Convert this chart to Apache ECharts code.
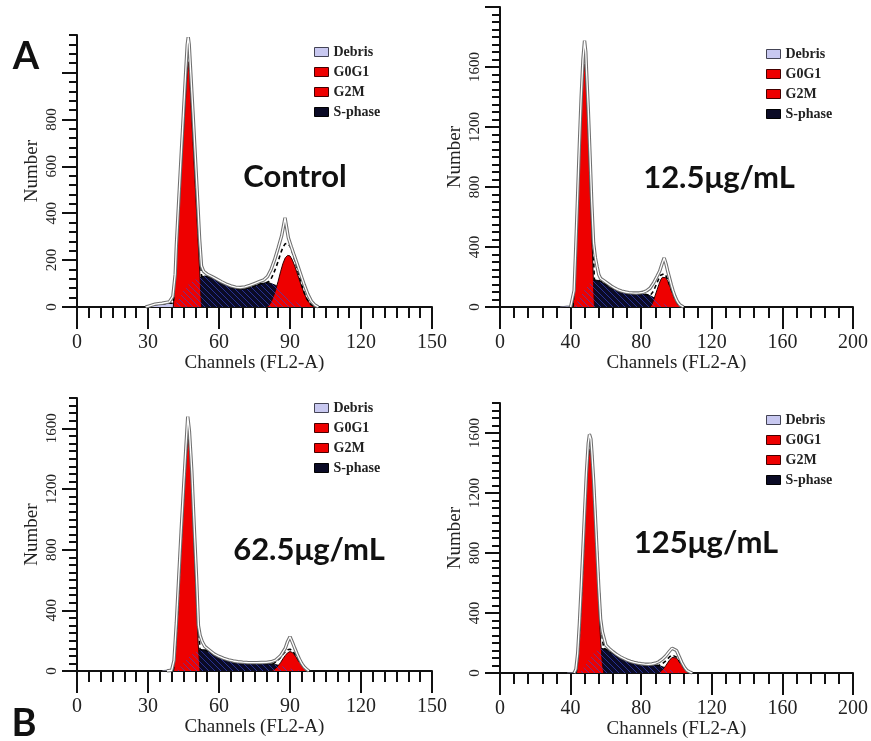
<!DOCTYPE html>
<html><head><meta charset="utf-8">
<script src="https://cdn.jsdelivr.net/npm/echarts@6/dist/echarts.min.js"></script>
<style>html,body{margin:0;padding:0;background:#fff}#c{width:871px;height:741px}</style>
</head><body><div id="c"></div>
<script>
// ---------- DATA (channel, count) ----------
const ctrlDebris = [[30,0],[30.5,8],[33,10],[36,13],[39,15],[41,14],[42,0]];
const ctrlS = [[41,0],[43,35],[45,70],[47,95],[49,112],[51,122],[52.6,128],[54,132],[55,131],[57,124],[59,115],[61,105],[63,95],[65,87],[67,80],[69,77],[71,78],[73,83],[75,90],[77,97],[79,102],[81,104],[82,100],[84,92],[86,78],[88,60],[90,42],[92,25],[94,12],[96,4],[97.5,0]];
const ctrlG1 = [[40.7,0],[42,225],[43,400],[44,570],[45,740],[46,910],[46.6,1010],[47,1046],[47.5,1000],[48,900],[49,705],[50,510],[51,315],[52,120],[52.6,0]];
const ctrlG2 = [[80.5,0],[82,20],[83,45],[84,75],[85,110],[86,150],[87,185],[88,210],[89,220],[89.5,221],[90,218],[91,200],[92,175],[93,145],[94,115],[95,85],[96,58],[97,36],[98,20],[99,9],[100,3],[101,0]];
const ctrlModel = [[30,0],[30.5,8],[33,10],[36,13],[39,16],[40.7,16],[42,255],[43,440],[44,630],[45,815],[46,1000],[46.6,1110],[47,1141],[47.5,1100],[48,1000],[49,815],[50,630],[51,435],[52,245],[52.6,130],[54,132],[56,128],[58,120],[60,110],[62,100],[64,91],[66,83],[68,78],[70,77],[72,80],[74,86],[76,94],[78,100],[80,104],[81,109],[82,120],[83,141],[84,167],[85,195],[86,228],[87,254],[88,270],[89,271],[90,260],[91,233],[92,200],[93,163],[94,127],[95,93],[96,62],[97,37],[98,20],[99,9],[100,3],[101,0]];
const ctrlOutline = [[29,0],[30,3],[30.5,10],[33,12],[36,16],[39,22],[40.5,45],[41.5,140],[42,265],[43,455],[44,645],[45,830],[46,1015],[46.6,1120],[47,1150],[47.4,1120],[48,1010],[49,830],[50,640],[51,450],[51.8,290],[52.6,175],[53.5,152],[55,140],[57,130],[59,119],[61,108],[63,98],[65,90],[67,85],[69,83],[71,86],[73,92],[75,100],[77,108],[79,116],[80.5,130],[82,160],[83.5,202],[85,252],[86.5,305],[87.9,380],[89.3,295],[90.5,258],[91.5,228],[93,185],[94.5,140],[96,95],[97.5,55],[99,25],[100.5,8],[102,0]];

const d12Debris = [[34,0],[35,4],[38,6],[41,5],[42,0]];
const d12S = [[42,0],[44,40],[46,80],[48,115],[50,145],[52,170],[54,180],[56,176],[58,165],[60,150],[62,135],[64,122],[66,112],[68,104],[70,98],[72,94],[74,92],[76,90],[78,88],[80,86],[82,85],[84,80],[86,70],[88,55],[90,40],[92,25],[94,13],[96,5],[98,0]];
const d12G1 = [[41.3,0],[42,100],[43,370],[44,680],[45,1000],[46,1300],[47,1530],[47.9,1620],[48.5,1560],[49,1420],[50,1150],[51,820],[52,480],[53,150],[53.5,0]];
const d12G2 = [[85,0],[86,15],[87,45],[88,80],[89,115],[90,150],[91,180],[92,198],[93,203],[94,195],[95,175],[96,145],[97,115],[98,85],[99,58],[100,35],[101,18],[102,7],[103.5,0]];
const d12Model = [[41.3,0],[42,100],[43,390],[44,720],[45,1060],[46,1380],[47,1630],[47.9,1730],[48.5,1680],[49,1540],[50,1295],[51,980],[52,650],[53,330],[53.5,178],[55,179],[57,171],[59,158],[61,142],[63,128],[65,117],[67,108],[69,101],[71,96],[73,93],[75,91],[77,89],[79,87],[81,86],[83,83],[85,75],[86,85],[87,107],[88,135],[89,162],[90,190],[91,212],[92,223],[93,222],[94,208],[95,184],[96,150],[97,117],[98,85],[99,58],[100,35],[101,18],[102,7],[103.5,0]];
const d12Outline = [[40,0],[41,10],[42,110],[43,420],[44,750],[45,1090],[46,1400],[47,1650],[47.9,1775],[48.6,1700],[49,1580],[50,1320],[51,1010],[52,690],[53,430],[54,330],[55,270],[56,215],[57,190],[59,174],[61,157],[63,140],[65,126],[67,114],[69,106],[71,100],[73,96],[75,94],[77,93],[79,94],[81,98],[83,108],[85,125],[87,160],[89,205],[90.5,240],[92,295],[93,327],[94,290],[95,240],[96,195],[97,150],[98,110],[99,75],[100,48],[101,28],[102,13],[103,5],[104,0]];

const d62Debris = [[36,0],[37,4],[40,6],[41,0]];
const d62S = [[42,0],[44,35],[46,70],[48,100],[50,125],[52,140],[54,140],[56,125],[58,105],[60,90],[62,78],[64,68],[66,62],[68,57],[70,54],[72,52],[74,51],[76,50],[78,50],[80,50],[82,48],[84,42],[86,34],[88,25],[90,16],[92,8],[94,3],[96,0]];
const d62G1 = [[40.7,0],[41.5,120],[42.5,380],[43.5,690],[44.5,970],[45.5,1230],[46.3,1430],[47,1534],[47.6,1460],[48.5,1200],[49.4,830],[50.3,500],[51.2,180],[52,0]];
const d62G2 = [[82.5,0],[84,18],[85,35],[86,55],[87,80],[88,102],[89,120],[90,128],[91,122],[92,105],[93,82],[94,58],[95,38],[96,20],[97,8],[98,0]];
const d62Model = [[40.7,0],[41.5,120],[42.5,385],[43.5,710],[44.5,1005],[45.5,1290],[46.3,1505],[47,1620],[47.6,1555],[48.5,1305],[49.4,945],[50.3,620],[51.2,312],[52,140],[54,140],[56,125],[58,105],[60,90],[62,78],[64,68],[66,62],[68,57],[70,54],[72,52],[74,51],[76,50],[78,50],[80,50],[82,48],[83,48],[84,60],[85,73],[86,89],[87,110],[88,127],[89,140],[90,144],[91,134],[92,113],[93,87],[94,61],[95,39],[96,20],[97,8],[98,0]];
const d62Outline = [[38,0],[40,5],[41,70],[42,320],[43,620],[44,920],[45,1200],[46,1470],[46.8,1677],[47.5,1580],[48.5,1320],[49.5,960],[50.5,620],[51.3,300],[52,235],[53,190],[54,162],[56,137],[58,112],[60,96],[62,83],[64,73],[66,66],[68,61],[70,58],[72,56],[74,55],[76,55],[78,56],[80,57],[82,61],[84,72],[86,100],[88,150],[89,195],[90,226],[91,190],[92,150],[93,112],[94,78],[95,48],[96,26],[97,11],[98,0]];

const d125Debris = [[38,0],[39,4],[42,5],[43,0]];
const d125S = [[45,0],[47,30],[49,65],[51,100],[53,130],[55,152],[57,165],[58,165],[60,158],[62,145],[64,130],[66,117],[68,103],[70,92],[72,82],[74,74],[76,67],[78,62],[80,58],[82,55],[84,54],[86,54],[88,53],[90,50],[92,42],[94,32],[96,22],[98,13],[100,6],[102,2],[104,0]];
const d125G1 = [[43.2,0],[44,80],[45,250],[46,470],[47,720],[48,990],[49,1240],[50,1430],[51,1495],[51.5,1470],[52,1390],[53,1180],[54,940],[55,690],[56,440],[57,220],[58,60],[58.8,0]];
const d125G2 = [[90,0],[92,20],[94,50],[96,85],[97.5,104],[98.6,109],[100,100],[101.5,78],[103,52],[104.5,28],[106,11],[108,0]];
const d125Model = [[43.2,0],[44,80],[45,252],[46,485],[47,750],[48,1037],[49,1305],[50,1512],[51,1595],[51.5,1582],[52,1505],[53,1310],[54,1081],[55,842],[56,598],[57,385],[58,225],[58.8,165],[60,158],[62,145],[64,130],[66,117],[68,103],[70,92],[72,82],[74,74],[76,67],[78,62],[80,58],[82,55],[84,54],[86,54],[88,53],[90,50],[92,62],[94,82],[96,107],[97.5,120],[98.6,121],[100,106],[101.5,81],[103,53],[104.5,28],[106,11],[108,0]];
const d125Outline = [[42,0],[43,25],[44,130],[45,330],[46,570],[47,830],[48,1090],[49,1340],[50,1530],[50.7,1590],[51.5,1560],[52,1480],[53,1290],[54,1050],[55,800],[56,560],[57,360],[58,275],[59,230],[60,185],[62,162],[64,142],[66,124],[68,109],[70,97],[72,86],[74,78],[76,71],[78,66],[80,62],[82,59],[84,58],[86,60],[88,65],[90,75],[92,92],[94,115],[96,145],[97.5,165],[98.6,175],[100,150],[101.5,110],[103,70],[104.5,38],[106,16],[108,4],[109,0]];

// ---------- TICKS ----------
const yTicksA = [0,200,400,600,800,1000];
const yLabelsA = [0,200,400,600,800];
const yTicksB = [0,400,800,1200,1600,2000];
const yLabelsB = [0,400,800,1200,1600];
const yTicksC = [0,400,800,1200,1600];
const yLabelsC = [0,400,800,1200,1600];
const legendNames = ['Debris','G0G1','G2M','S-phase'];
const conditionLabels = ['Control','12.5μg/mL','62.5μg/mL','125μg/mL'];

// ---------- LAYOUT ----------
const panels = [
  {grid:{left:77,top:35,width:355,height:272}, xMax:150, xMinor:5, xMajor:30, yMax:1160, yMinor:40, yMajor:200, ySplit:5, yTicks:yTicksA, yLabels:yLabelsA,
   d:{debris:ctrlDebris,s:ctrlS,g1:ctrlG1,g2:ctrlG2,model:ctrlModel,outline:ctrlOutline}, legend:{left:314,top:45}, label:{x:295,y:177}},
  {grid:{left:500,top:7,width:355,height:300}, xMax:200, xMinor:8, xMajor:40, yMax:2000, yMinor:50, yMajor:400, ySplit:8, yTicks:yTicksB, yLabels:yLabelsB,
   d:{debris:d12Debris,s:d12S,g1:d12G1,g2:d12G2,model:d12Model,outline:d12Outline}, legend:{left:766,top:47}, label:{x:719,y:178}},
  {grid:{left:77,top:398,width:355,height:273}, xMax:150, xMinor:5, xMajor:30, yMax:1800, yMinor:50, yMajor:400, ySplit:8, yTicks:yTicksC, yLabels:yLabelsC,
   d:{debris:d62Debris,s:d62S,g1:d62G1,g2:d62G2,model:d62Model,outline:d62Outline}, legend:{left:314,top:401}, label:{x:309,y:550}},
  {grid:{left:500,top:403,width:355,height:270}, xMax:200, xMinor:8, xMajor:40, yMax:1800, yMinor:50, yMajor:400, ySplit:8, yTicks:yTicksC, yLabels:yLabelsC,
   d:{debris:d125Debris,s:d125S,g1:d125G1,g2:d125G2,model:d125Model,outline:d125Outline}, legend:{left:766,top:413}, label:{x:706,y:543}}
];

function hatchPattern(){
  const c = document.createElement('canvas'); c.width = 6; c.height = 6;
  const g = c.getContext('2d');
  g.strokeStyle = 'rgba(55,70,200,0.75)'; g.lineWidth = 0.9;
  g.beginPath();
  g.moveTo(-1,-1); g.lineTo(7,7);
  g.moveTo(-1,5); g.lineTo(1,7);
  g.moveTo(5,-1); g.lineTo(7,1);
  g.stroke();
  return c;
}
const hatch = hatchPattern();

const SERIF = 'Liberation Serif';
const INK = '#111';
const grids = [], xAxes = [], yAxes = [], series = [], legends = [], graphics = [];

panels.forEach((p, i) => {
  grids.push(p.grid);
  xAxes.push({gridIndex:i, type:'value', position:'bottom', min:0, max:p.xMax, interval:p.xMinor,
    axisLine:{show:true, onZero:false, lineStyle:{color:INK, width:2}},
    axisTick:{show:true, length:11, lineStyle:{color:INK, width:2}},
    axisLabel:{show:false}, splitLine:{show:false}});
  xAxes.push({gridIndex:i, type:'value', position:'bottom', min:0, max:p.xMax, interval:p.xMajor,
    axisLine:{show:false, onZero:false},
    axisTick:{show:true, length:22, lineStyle:{color:INK, width:2}},
    axisLabel:{show:true, margin:26, fontSize:20, fontFamily:SERIF, color:'#222', formatter:v => String(v)},
    splitLine:{show:false},
    name:'Channels (FL2-A)', nameLocation:'middle', nameGap:46,
    nameTextStyle:{fontSize:19, fontFamily:SERIF, color:'#222'}});
  yAxes.push({gridIndex:i, type:'value', position:'left', offset:0, min:0, max:p.yMax, interval:p.yMinor,
    axisLine:{show:true, onZero:false, lineStyle:{color:INK, width:2}},
    axisTick:{show:true, length:8, lineStyle:{color:INK, width:2}},
    axisLabel:{show:false}, splitLine:{show:false}});
  yAxes.push({gridIndex:i, type:'value', position:'left', offset:0, min:0, max:p.yMax, interval:p.yMajor,
    axisLine:{show:false, onZero:false},
    axisTick:{show:true, length:15, customValues:p.yTicks, lineStyle:{color:INK, width:2}},
    minorTick:{show:true, splitNumber:p.ySplit, length:8, lineStyle:{color:INK, width:2}},
    axisLabel:{show:true, customValues:p.yLabels, rotate:90, margin:17, fontSize:15, fontFamily:SERIF, color:'#222', formatter:v => String(v)},
    splitLine:{show:false},
    name:'Number', nameLocation:'middle', nameGap:35, nameRotate:90,
    nameTextStyle:{fontSize:19, fontFamily:SERIF, color:'#222'}});

  const xi = 2*i, yi = 2*i;
  const base = {type:'line', xAxisIndex:xi, yAxisIndex:yi, showSymbol:false, symbol:'none', silent:true, animation:false};
  series.push(Object.assign({}, base, {name:'Debris', data:p.d.debris, z:2,
    lineStyle:{width:1, color:'#667'}, itemStyle:{color:'#c8c8f0'}, areaStyle:{color:'#c8c8f0', opacity:1}}));
  series.push(Object.assign({}, base, {name:'S-phase', data:p.d.s, z:3,
    lineStyle:{width:1, color:'#000'}, itemStyle:{color:'#0b0b26'}, areaStyle:{color:'#0b0b26', opacity:1}}));
  series.push(Object.assign({}, base, {name:'G0G1', data:p.d.g1, z:4,
    lineStyle:{width:1, color:'#300'}, itemStyle:{color:'#ee0000'}, areaStyle:{color:'#ee0000', opacity:1}}));
  series.push(Object.assign({}, base, {name:'G2M', data:p.d.g2, z:4,
    lineStyle:{width:1, color:'#300'}, itemStyle:{color:'#ee0000'}, areaStyle:{color:'#ee0000', opacity:1}}));
  series.push(Object.assign({}, base, {name:'S hatch', data:p.d.s, z:5,
    lineStyle:{width:0, opacity:0}, areaStyle:{color:{image:hatch, repeat:'repeat'}, opacity:1}}));
  series.push(Object.assign({}, base, {name:'Model fit', data:p.d.model, z:6,
    lineStyle:{width:1.6, color:'#000', type:[4,3]}}));
  series.push(Object.assign({}, base, {name:'Data', data:p.d.outline, z:7,
    lineStyle:{width:3.4, color:'#707070'}}));
  series.push(Object.assign({}, base, {name:'Data core', data:p.d.outline, z:8,
    lineStyle:{width:1.3, color:'#ffffff'}}));

  legends.push({left:p.legend.left, top:p.legend.top, orient:'vertical', padding:0, itemGap:6,
    itemWidth:14, itemHeight:9, icon:'rect', selectedMode:false,
    textStyle:{fontFamily:SERIF, fontWeight:'bold', fontSize:14, color:'#222', lineHeight:14},
    data:[
      {name:legendNames[0], itemStyle:{color:'#c8c8f0', borderColor:'#445', borderWidth:1}},
      {name:legendNames[1], itemStyle:{color:'#ee0000', borderColor:'#400', borderWidth:1}},
      {name:legendNames[2], itemStyle:{color:'#ee0000', borderColor:'#400', borderWidth:1}},
      {name:legendNames[3], itemStyle:{color:'#0b0b26', borderColor:'#000', borderWidth:1}}
    ]});

  graphics.push({type:'text', x:p.label.x, y:p.label.y, silent:true,
    style:{text:conditionLabels[i], font:'bold 31px Lato', fill:'#111', align:'center', verticalAlign:'middle'}});
});

graphics.push({type:'text', x:26, y:57, silent:true, style:{text:'A', font:'bold 38px Lato', fill:'#111', align:'center', verticalAlign:'middle'}});
graphics.push({type:'text', x:24, y:724, silent:true, style:{text:'B', font:'bold 38px Lato', fill:'#111', align:'center', verticalAlign:'middle'}});

const chart = echarts.init(document.getElementById('c'), null, {renderer:'canvas'});
chart.setOption({
  backgroundColor:'#ffffff',
  animation:false,
  grid:grids, xAxis:xAxes, yAxis:yAxes, series:series, legend:legends, graphic:graphics
});
</script>
</body></html>
